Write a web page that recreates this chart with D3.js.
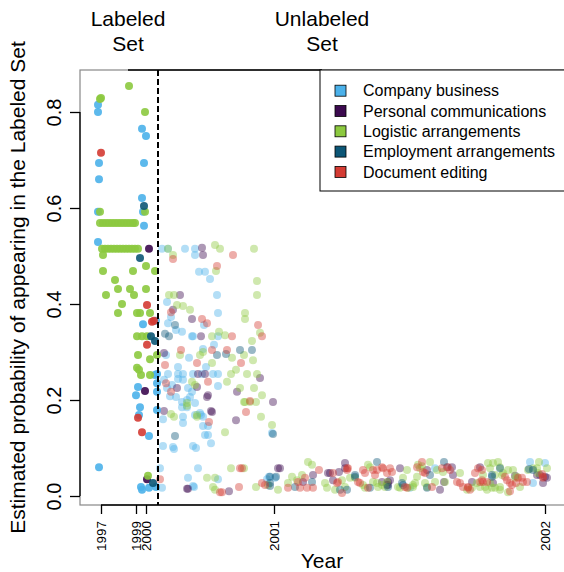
<!DOCTYPE html>
<html>
<head>
<meta charset="utf-8">
<script src="https://cdn.jsdelivr.net/npm/d3@7"></script>
<style>
body { margin: 0; background: #fff; }
svg { display: block; font-family: "Liberation Sans", Arial, sans-serif; }
</style>
</head>
<body>
<div id="graphZone"></div>
<script>
/************************************ Data *******************************/
// x = message index (messages sorted by date), y = estimated probability
var categories = ["Company business", "Personal communications", "Logistic arrangements",
	"Employment arrangements", "Document editing"];
var yearTickIndex = [21, 56, 66, 194, 465];
var yearTickLabels = ["1997", "1999", "2000", "2001", "2002"];
var probTicks = [0, 0.2, 0.4, 0.6, 0.8];
var labeledCutoff = 78;
var setLabelIndex = [48, 242];
var setLabels = [["Labeled", "Set"], ["Unlabeled", "Set"]];

var companyBusiness = [
	[18,0.815],[18,0.800],[62,0.765],[66,0.750],[19,0.694],[64,0.694],[19,0.660],[62,0.621],[63,0.592],[18,0.592],
	[64,0.563],[18,0.529],[63,0.358],[76,0.365],[77,0.254],[75,0.252],[77,0.235],[58,0.227],[56,0.210],[77,0.217],
	[60,0.185],[77,0.179],[59,0.169],[69,0.125],[19,0.060],[61,0.019],[62,0.013],[69,0.017],[76,0.019],
	[82,0.515],[88,0.515],[105,0.515],[115,0.515],[115,0.502],[119,0.467],[125,0.467],[130,0.452],[137,0.419],[87,0.404],
	[138,0.381],[124,0.356],[88,0.360],[91,0.373],[96,0.346],[102,0.342],[112,0.333],[113,0.333],[138,0.333],[134,0.315],
	[123,0.306],[86,0.294],[109,0.288],[126,0.269],[98,0.269],[88,0.254],[98,0.254],[103,0.254],[113,0.254],[122,0.254],
	[133,0.254],[138,0.254],[84,0.242],[98,0.244],[103,0.242],[138,0.229],[92,0.231],[87,0.225],[108,0.225],[112,0.217],
	[107,0.200],[110,0.206],[90,0.208],[96,0.206],[102,0.196],[115,0.194],[120,0.173],[115,0.169],[83,0.160],[102,0.185],
	[107,0.185],[103,0.165],[103,0.152],[121,0.169],[123,0.165],[123,0.146],[128,0.146],[125,0.127],[128,0.127],[131,0.110],
	[83,0.104],[93,0.102],[94,0.098],[113,0.104],[116,0.100],[80,0.058],[118,0.058],[108,0.038],[113,0.021],[114,0.019],
	[138,0.035],[187,0.035],[189,0.040],[82,0.017],[192,0.131],[195,0.038],[330,0.017],[355,0.058],[450,0.071],[465,0.069],
	[453,0.027]
];
var personalCommunications = [
	[69,0.515],[65,0.219],[67,0.035],
	[122,0.517],[123,0.502],[100,0.419],[93,0.388],[112,0.369],[121,0.333],[84,0.298],[118,0.254],[125,0.254],[180,0.246],
	[97,0.225],[117,0.227],[128,0.210],[127,0.206],[157,0.217],[193,0.196],[131,0.177],[84,0.177],[156,0.158],[132,0.175],
	[107,0.015],[108,0.015],[149,0.010],
	[198,0.058],[200,0.058],[223,0.029],[233,0.044],[248,0.048],[250,0.048],[253,0.033],[259,0.050],[265,0.069],[265,0.058],
	[302,0.029],[308,0.023],[310,0.033],[320,0.058],[347,0.054],[360,0.013],[364,0.029],[367,0.060],[372,0.060],[373,0.044],
	[392,0.029],[400,0.060],[413,0.027],[435,0.042],[457,0.044],[460,0.044],[463,0.027],[465,0.040],[467,0.038],
	[307,0.023],[308,0.029]
];
var logisticArrangements = [
	[49,0.854],[20,0.827],[21,0.829],[65,0.800],[65,0.592],[20,0.592],
	[20,0.569],[23,0.569],[26,0.569],[29,0.569],[32,0.569],[35,0.569],[38,0.569],[41,0.569],[44,0.569],[47,0.569],
	[50,0.569],[53,0.569],[55,0.569],
	[22,0.515],[25,0.515],[28,0.515],[31,0.515],[34,0.515],[37,0.515],[40,0.515],[43,0.515],[46,0.515],[49,0.515],
	[52,0.515],[55,0.515],[58,0.515],
	[23,0.502],[66,0.479],[23,0.469],[53,0.469],[75,0.469],[35,0.450],[38,0.431],[50,0.431],[66,0.431],[26,0.419],
	[54,0.419],[42,0.400],[38,0.381],[57,0.381],[60,0.381],[70,0.381],[57,0.333],[62,0.333],[67,0.333],[58,0.294],
	[70,0.285],[77,0.294],[57,0.267],[59,0.263],[61,0.252],[70,0.252],[68,0.042],
	[88,0.515],[135,0.523],[140,0.515],[174,0.515],[93,0.502],[136,0.469],[177,0.448],[177,0.419],[89,0.419],[94,0.419],
	[97,0.398],[103,0.396],[110,0.388],[165,0.381],[165,0.369],[180,0.340],[139,0.342],[145,0.335],[132,0.333],[172,0.323],
	[100,0.294],[120,0.294],[123,0.300],[152,0.288],[164,0.294],[173,0.283],[132,0.277],[156,0.263],[151,0.254],[167,0.254],
	[177,0.254],[112,0.238],[115,0.231],[147,0.238],[160,0.225],[174,0.225],[182,0.210],[165,0.196],[107,0.194],[94,0.165],
	[117,0.165],[91,0.171],[107,0.188],[117,0.169],[145,0.133],[164,0.196],[170,0.196],[176,0.196],[181,0.165],[192,0.148],
	[151,0.058],[164,0.058],[127,0.038],[135,0.038],[133,0.019],[135,0.013],
	[176,0.019],[198,0.013],[208,0.027],[217,0.033],[222,0.044],[228,0.071],[232,0.065],[245,0.027],[247,0.017],[255,0.013],
	[262,0.033],[265,0.019],[270,0.038],[275,0.038],[283,0.023],[285,0.017],[288,0.065],[290,0.060],[293,0.029],[297,0.027],
	[302,0.023],[305,0.019],[307,0.029],[323,0.038],[328,0.017],[327,0.054],[337,0.040],[333,0.023],[342,0.062],[345,0.027],
	[347,0.019],[355,0.029],[350,0.071],[357,0.054],[363,0.050],[365,0.029],[380,0.048],[387,0.013],[392,0.017],[397,0.027],
	[400,0.019],[405,0.019],[408,0.069],[410,0.058],[413,0.069],[418,0.071],[420,0.060],[422,0.044],[423,0.048],[410,0.027],
	[412,0.017],[420,0.013],[428,0.054],[433,0.054],[435,0.038],[437,0.040],[440,0.019],[448,0.054],[453,0.058],[457,0.058],
	[459,0.071],[458,0.048],[467,0.058],[407,0.013],[415,0.017],[428,0.008],[420,0.019],
	[188,0.023],[212,0.040],[298,0.019],[320,0.017],[318,0.019],[335,0.027],[333,0.019],[338,0.065],[340,0.058],[403,0.044],
	[415,0.044]
];
var employmentArrangements = [
	[64,0.604],[60,0.496],[71,0.333],[75,0.323],[73,0.027],
	[95,0.356],[85,0.338],[89,0.333],[137,0.294],[146,0.296],[160,0.304],[172,0.304],[95,0.125],[193,0.129],[190,0.027],
	[190,0.040],[196,0.040],[190,0.021],
	[215,0.019],[232,0.029],[260,0.013],[267,0.013],[297,0.071],[290,0.017],[275,0.044],[308,0.019],[322,0.027],[323,0.023],
	[350,0.044],[347,0.017],[364,0.071],[412,0.040],[420,0.058],[449,0.056],[453,0.054],[275,0.040],[412,0.044]
];
var documentEditing = [
	[21,0.715],[67,0.398],[72,0.363],[74,0.365],[67,0.315],[58,0.163],[62,0.133],
	[80,0.035],[93,0.494],[153,0.502],[137,0.479],[91,0.383],[122,0.369],[127,0.360],[178,0.356],[182,0.333],[152,0.333],
	[101,0.304],[132,0.304],[147,0.304],[161,0.277],[85,0.273],[117,0.277],[86,0.235],[128,0.238],[91,0.217],[170,0.198],
	[166,0.175],[129,0.154],[160,0.058],[162,0.058],[140,0.008],[142,0.008],[159,0.019],
	[182,0.027],[185,0.023],[208,0.017],[218,0.029],[225,0.038],[227,0.017],[233,0.017],[220,0.017],[239,0.054],[253,0.048],
	[262,0.006],[267,0.058],[258,0.029],[278,0.029],[280,0.027],[283,0.054],[285,0.048],[293,0.054],[297,0.054],[288,0.017],
	[295,0.044],[302,0.060],[303,0.058],[307,0.048],[310,0.058],[312,0.050],[325,0.019],[327,0.017],[337,0.060],[342,0.071],
	[343,0.050],[345,0.048],[352,0.019],[362,0.058],[370,0.054],[377,0.029],[380,0.027],[383,0.019],[388,0.017],[395,0.048],
	[398,0.058],[402,0.054],[400,0.029],[402,0.033],[407,0.029],[425,0.040],[427,0.033],[430,0.027],[432,0.023],[430,0.010],
	[436,0.027],[438,0.038],[442,0.038],[443,0.029],[447,0.029],[462,0.046],[463,0.040],
	[257,0.027],[267,0.054],[268,0.058],[368,0.060],[388,0.019],[390,0.013],[463,0.038],[403,0.029]
];

var seriesValues = [companyBusiness, personalCommunications, logisticArrangements,
	employmentArrangements, documentEditing];

/************************************ Setup *******************************/
var colors = ["#4BB1EA", "#3C0A4F", "#8CC93F", "#0C5676", "#D43B33"];
var width = 564, height = 572;
var plot = {left: 80, right: 566, top: 70, bottom: 505};

var svg = d3.select("#graphZone").append("svg")
	.attr("width", width)
	.attr("height", height);

var x = d3.scaleLinear().domain([0, 486]).range([plot.left, plot.right]);
var y = d3.scaleLinear().domain([-0.01875, 0.8875]).range([plot.bottom, plot.top]);

/************************************ Points *******************************/
var points = [];
seriesValues.forEach(function(s, c) {
	s.forEach(function(d) { points.push({idx: d[0], p: d[1], cat: c}); });
});
// labeled messages drawn on top
points.sort(function(a, b) { return (a.idx < labeledCutoff) - (b.idx < labeledCutoff); });

svg.append("g").selectAll("circle")
	.data(points)
	.enter().append("circle")
		.attr("cx", function(d) { return x(d.idx); })
		.attr("cy", function(d) { return y(d.p); })
		.attr("r", 4)
		.style("fill", function(d) { return colors[d.cat]; })
		.style("opacity", function(d) { return d.idx < labeledCutoff ? 0.9 : 0.42; });

/************************************ Frame & axes *******************************/
svg.append("rect")
	.attr("x", plot.left).attr("y", plot.top)
	.attr("width", plot.right - plot.left).attr("height", plot.bottom - plot.top)
	.style("fill", "none").style("stroke", "#888").style("stroke-width", 1.2);

svg.append("line")
	.attr("x1", x(labeledCutoff)).attr("x2", x(labeledCutoff))
	.attr("y1", plot.top).attr("y2", plot.bottom)
	.style("stroke", "#000").style("stroke-width", 2).style("stroke-dasharray", "6,3");

var xAxis = svg.append("g")
	.attr("transform", "translate(0," + plot.bottom + ")")
	.call(d3.axisBottom(x).tickValues(yearTickIndex)
		.tickFormat(function(d, i) { return yearTickLabels[i]; })
		.tickSize(9).tickSizeOuter(0));
xAxis.select(".domain").remove();
xAxis.selectAll("line").style("stroke-width", 1.3);
xAxis.selectAll("text")
	.attr("transform", "rotate(-90)")
	.attr("x", -16).attr("y", 0).attr("dy", "0.36em")
	.style("text-anchor", "end")
	.style("font-size", "13.5px").style("fill", "#000");
xAxis.append("line")
	.attr("x1", x(yearTickIndex[0])).attr("x2", x(yearTickIndex[yearTickIndex.length - 1]))
	.style("stroke", "#000").style("stroke-width", 1.3);

var yAxis = svg.append("g")
	.attr("transform", "translate(" + plot.left + ",0)")
	.call(d3.axisLeft(y).tickValues(probTicks).tickFormat(d3.format(".1f"))
		.tickSize(10).tickSizeOuter(0));
yAxis.select(".domain").remove();
yAxis.selectAll("line").style("stroke-width", 1.3);
yAxis.selectAll("text")
	.attr("transform", "rotate(-90)")
	.attr("x", 0).attr("y", -19).attr("dy", 0)
	.style("text-anchor", "middle")
	.style("font-size", "20px").style("fill", "#000");
yAxis.append("line")
	.attr("y1", y(probTicks[0])).attr("y2", y(probTicks[probTicks.length - 1]))
	.style("stroke", "#000").style("stroke-width", 1.3);

// top axis: labeled / unlabeled sets
svg.append("line")
	.attr("x1", x(setLabelIndex[0])).attr("x2", x(setLabelIndex[1]))
	.attr("y1", plot.top).attr("y2", plot.top)
	.style("stroke", "#000").style("stroke-width", 1.3);
setLabels.forEach(function(lines, i) {
	var t = svg.append("text")
		.attr("x", x(setLabelIndex[i])).attr("y", 26)
		.style("text-anchor", "middle").style("font-size", "21px");
	lines.forEach(function(l, j) {
		t.append("tspan").attr("x", x(setLabelIndex[i])).attr("dy", j ? 25 : 0).text(l);
	});
});

svg.append("text")
	.attr("x", (plot.left + 566) / 2 - 1).attr("y", 568)
	.style("text-anchor", "middle").style("font-size", "21px")
	.text("Year");

svg.append("text")
	.attr("transform", "translate(25," + (plot.top + plot.bottom) / 2 + ") rotate(-90)")
	.style("text-anchor", "middle").style("font-size", "21px")
	.text("Estimated probability of appearing in the Labeled Set");

/************************************ Legend *******************************/
var legend = svg.append("g").attr("transform", "translate(320," + plot.top + ")");
legend.append("rect")
	.attr("width", 260).attr("height", 121)
	.style("fill", "#fff").style("stroke", "#000").style("stroke-width", 1);
var items = legend.selectAll(".item")
	.data(categories)
	.enter().append("g")
		.attr("class", "item")
		.attr("transform", function(d, i) { return "translate(0," + (20.7 + i * 20.3) + ")"; });
items.append("rect")
	.attr("x", 15).attr("y", -5.5).attr("width", 11).attr("height", 11)
	.style("fill", function(d, i) { return colors[i]; })
	.style("stroke", "#000").style("stroke-width", 0.8);
items.append("text")
	.attr("x", 43).attr("dy", "0.35em")
	.style("font-size", "16px")
	.text(function(d) { return d; });
</script>
</body>
</html>
